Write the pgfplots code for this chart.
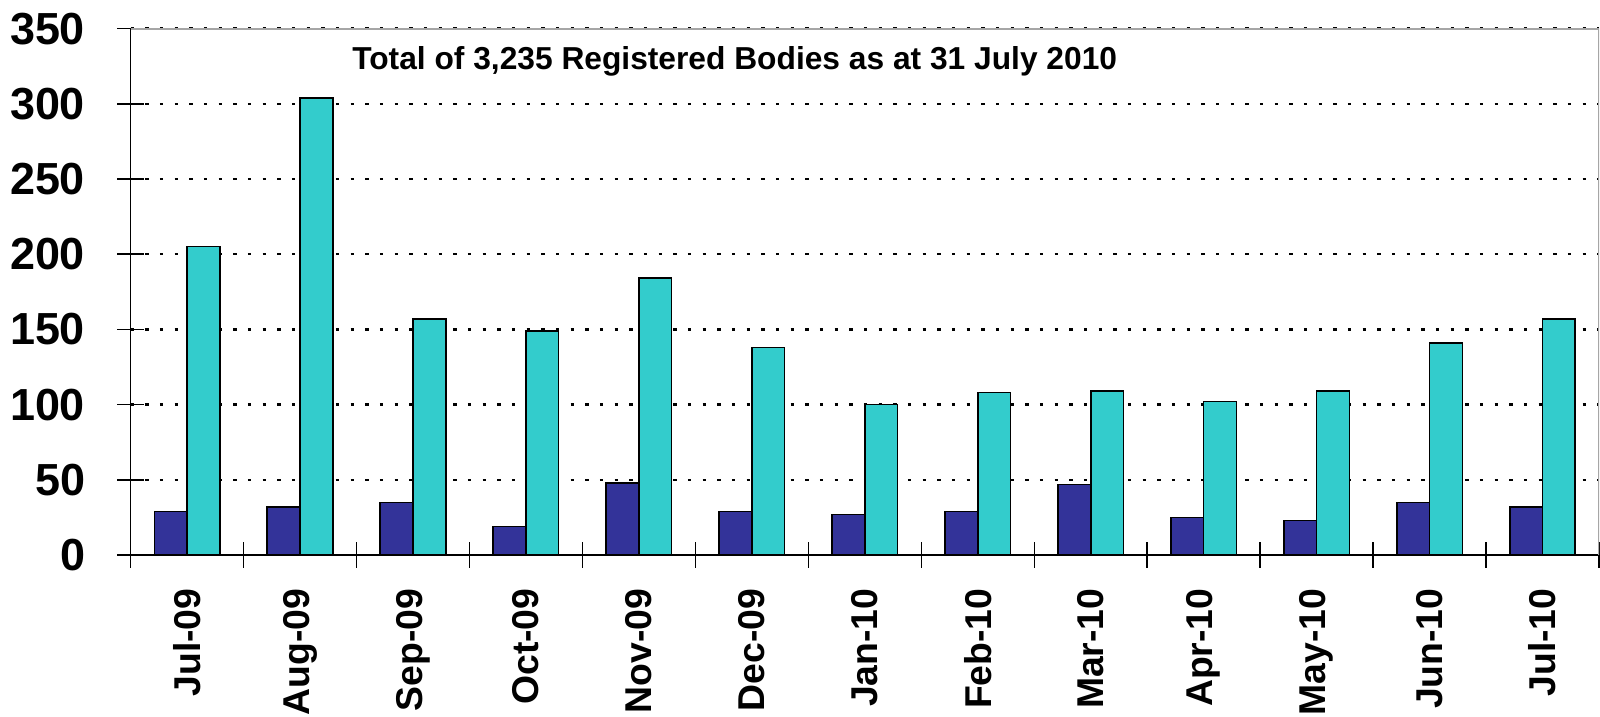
\documentclass[border=0pt]{standalone}
\usepackage{pgfplots}
\pgfplotsset{compat=1.18}
\usepackage{fontspec}
\setmainfont{Liberation Sans}
\definecolor{darkbar}{HTML}{333399}
\definecolor{cyanbar}{HTML}{33CCCC}
\begin{document}
\begin{tikzpicture}
\begin{axis}[
  name=ax,
  scale only axis,
  width=1101.3pt, height=394.8pt,
  xmin=-0.5, xmax=12.5, ymin=0, ymax=350,
  ybar=0pt, bar width=0.29,
  axis x line*=bottom, axis y line*=left,
  x axis line style={-, line width=1.6pt},
  y axis line style={-, line width=1.1pt},
  xtick={0,...,12},
  xticklabels={Jul-09,Aug-09,Sep-09,Oct-09,Nov-09,Dec-09,Jan-10,Feb-10,Mar-10,Apr-10,May-10,Jun-10,Jul-10},
  major x tick style={draw=none},
  minor xtick={-0.5,0.5,...,12.5},
  ytick={0,50,...,350},
  tick align=center,
  major tick length=20pt,
  minor tick length=19pt,
  tick style={black, line width=1.1pt},
  ymajorgrids,
  major grid style={black, line width=1.9pt, dash pattern=on 2.6pt off 8.4pt},
  /pgf/number format/assume math mode=true,
  yticklabel style={font=\bfseries\fontsize{33.7}{40}\selectfont, anchor=east, inner sep=0pt, xshift=-24pt},
  xticklabel style={font=\bfseries\fontsize{28}{33}\selectfont, rotate=90, anchor=east, inner sep=0pt, xshift=-15pt},
]
\addplot[fill=darkbar, draw=black, line width=1.2pt] coordinates {
(0,29) (1,32) (2,35) (3,19) (4,48) (5,29) (6,27) (7,29) (8,47) (9,25) (10,23) (11,35) (12,32)};
\addplot[fill=cyanbar, draw=black, line width=1.2pt] coordinates {
(0,205) (1,304) (2,157) (3,149) (4,184) (5,138) (6,100) (7,108) (8,109) (9,102) (10,109) (11,141) (12,157)};
\draw[gray!70, line width=1.5pt] (rel axis cs:0,1) -- (rel axis cs:1,1) -- (rel axis cs:1,0);
\node[anchor=base west, font=\bfseries\fontsize{23.8}{28}\selectfont, inner sep=0pt] at (axis cs:1.46,322.7) {Total of 3,235 Registered Bodies as at 31 July 2010};
\end{axis}
\pgfresetboundingbox
\path[use as bounding box] ([shift={(-97.95pt,-121.5pt)}]ax.south west) rectangle ([shift={(0.75pt,21.45pt)}]ax.north east);
\end{tikzpicture}
\end{document}
